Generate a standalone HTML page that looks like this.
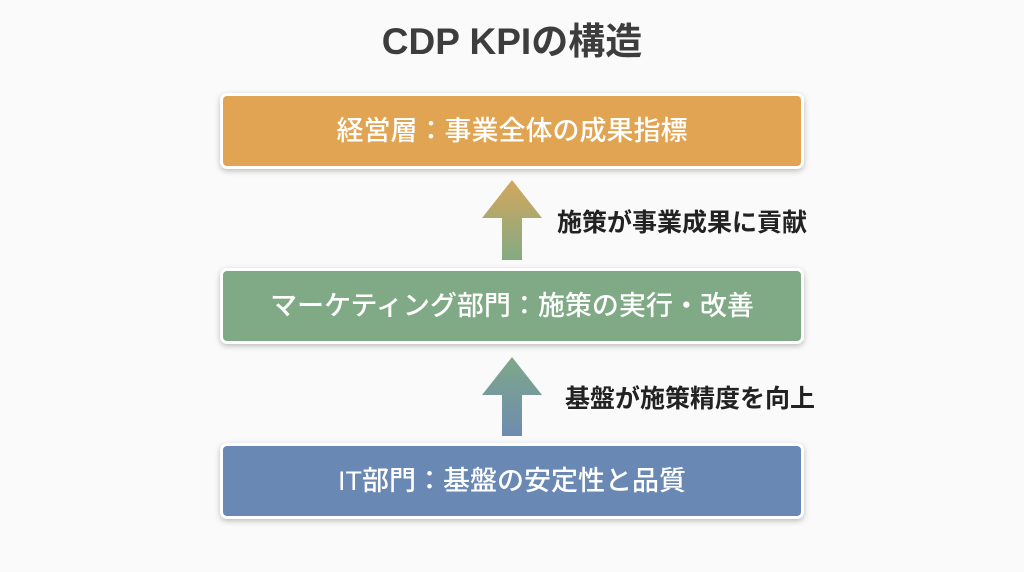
<!DOCTYPE html>
<html><head><meta charset="utf-8"><style>
body{margin:0;width:1024px;height:572px;background:#fafafa;font-family:"Liberation Sans","Noto Sans CJK JP",sans-serif;position:relative;overflow:hidden}
.t{position:absolute;top:11px;left:0;width:1024px;text-align:center;font-size:37px;font-weight:bold;color:#3d3d3d}
.b{position:absolute;left:220px;width:578px;height:70px;border:3px solid #fff;border-radius:7px;box-shadow:0 2px 6px rgba(0,0,0,.25);color:#fff;font-size:27px;font-weight:500;text-align:center;line-height:70px}
.l{position:absolute;font-size:25px;font-weight:bold;color:#222}
</style></head><body>
<div class="t">CDP KPIの構造</div>
<div class="b" style="top:93px;background:#e0a452">経営層：事業全体の成果指標</div>
<div class="b" style="top:268px;background:#80a985">マーケティング部門：施策の実行・改善</div>
<div class="b" style="top:443px;background:#6a88b4">IT部門：基盤の安定性と品質</div>
<svg width="1024" height="572" style="position:absolute;left:0;top:0">
<defs>
<linearGradient id="g1" x1="0" y1="0" x2="0" y2="1"><stop offset="0" stop-color="#d4a75c"/><stop offset="1" stop-color="#84aa84"/></linearGradient>
<linearGradient id="g2" x1="0" y1="0" x2="0" y2="1"><stop offset="0" stop-color="#7ea888"/><stop offset="1" stop-color="#6e8cb0"/></linearGradient>
</defs>
<polygon points="512,180 542,218 522,218 522,260 502,260 502,218 482,218" fill="url(#g1)"/>
<polygon points="512,357 542,395 522,395 522,436 502,436 502,395 482,395" fill="url(#g2)"/>
</svg>
<div class="l" style="left:557px;top:203px">施策が事業成果に貢献</div>
<div class="l" style="left:565px;top:379px">基盤が施策精度を向上</div>
</body></html>
